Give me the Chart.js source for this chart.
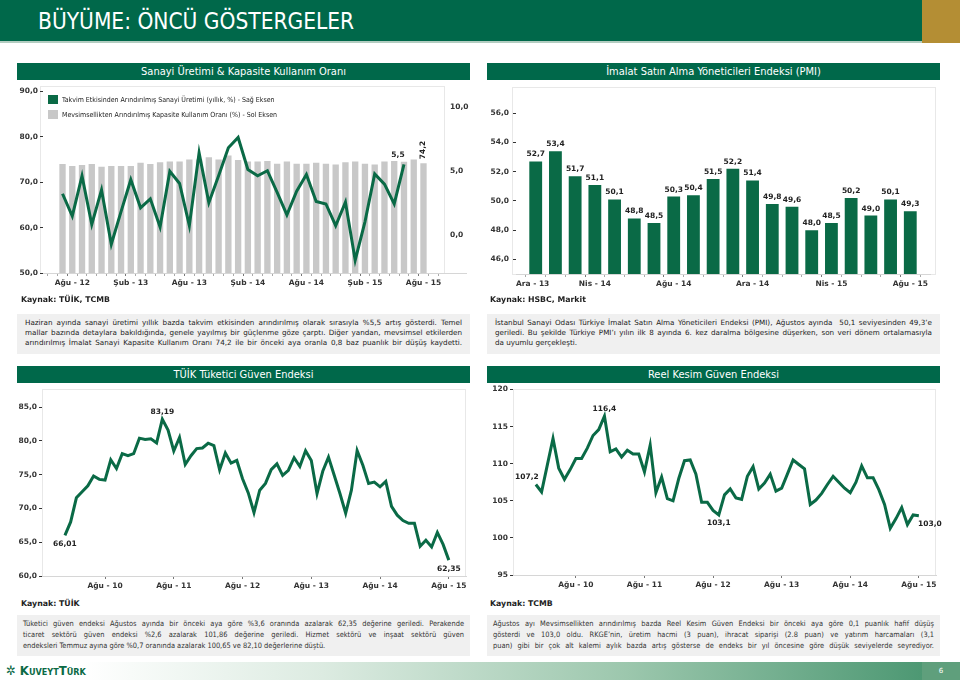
<!DOCTYPE html>
<html>
<head>
<meta charset="utf-8">
<script src="https://cdn.jsdelivr.net/npm/chart.js@4.4.0/dist/chart.umd.min.js"></script>
<style>
body{margin:0;width:960px;height:680px;position:relative;background:#fff;overflow:hidden;font-family:"DejaVu Sans",sans-serif;color:#222}
.abs{position:absolute}
#ust{left:0;top:0;width:922px;height:41px;background:#00684a}
#ustCizgi{left:0;top:41px;width:922px;height:2px;background:#b3cdc1}
#altin{left:922px;top:0;width:38px;height:43px;background:#b48e34}
#baslik{left:38px;top:6px;font:22.5px "DejaVu Sans Condensed","DejaVu Sans";color:#fff;line-height:30px}
.bant{height:17px;background:#00684a;color:#fff;font:11px "DejaVu Sans Condensed","DejaVu Sans";line-height:17px;text-align:center;width:453px}
.kutu{border:1px solid #e8e8e8;background:#fff;box-sizing:border-box}
.eksen{height:1px;background:#d6d6d6}
.kaynak{font:bold 7.8px "DejaVu Sans";color:#222}
.not{background:#f0f0f0;width:453px;box-sizing:border-box;padding:4px 8px 0 8px;font:7.2px "DejaVu Sans";color:#222}
.not div{line-height:10px;height:10px;text-align:justify;text-align-last:justify;white-space:nowrap;overflow:visible}
.not div.son{text-align-last:left}
.not2{background:#f0f0f0;width:453px;box-sizing:border-box;padding:3px 6px 0 6px;font:7.4px "DejaVu Sans Condensed","DejaVu Sans";color:#333}
.not2 div{line-height:11px;height:11px;text-align:justify;text-align-last:justify;white-space:nowrap}
.not2 div.son{text-align-last:left}
#lejant{left:48px;top:95px;font:7px "DejaVu Sans Condensed","DejaVu Sans";color:#222}
#lejant .s{height:15px;line-height:10px;white-space:nowrap}
#lejant i{display:inline-block;width:10px;height:9px;vertical-align:top;margin-right:4px}
#alt{left:0;top:662px;width:922px;height:18px;background:linear-gradient(to right,#fff 0%,#fff 9%,#dcebe1 35%,#9cc7ad 68%,#4d9873 100%)}
#altSag{left:922px;top:662px;width:38px;height:18px;background:#5f9f7c;color:#fff;font:7px "DejaVu Sans";line-height:18px;text-align:center}
#logo{left:6px;top:663px;font:bold 13px "DejaVu Sans Condensed","DejaVu Sans";font-variant:small-caps;color:#0b6a45;line-height:16px}
canvas{position:absolute}
</style>
</head>
<body>
<div class="abs" id="ust"></div>
<div class="abs" id="ustCizgi"></div>
<div class="abs" id="altin"></div>
<div class="abs" id="baslik">BÜYÜME: ÖNCÜ GÖSTERGELER</div>

<div class="abs bant" style="left:17px;top:63px">Sanayi Üretimi &amp; Kapasite Kullanım Oranı</div>
<div class="abs bant" style="left:487px;top:63px">İmalat Satın Alma Yöneticileri Endeksi (PMI)</div>
<div class="abs bant" style="left:17px;top:366px">TÜİK Tüketici Güven Endeksi</div>
<div class="abs bant" style="left:487px;top:366px">Reel Kesim Güven Endeksi</div>

<div class="abs kutu" style="left:40px;top:86px;width:405px;height:188px"></div>
<div class="abs eksen" style="left:43px;top:273px;width:424px"></div>
<div class="abs kutu" style="left:512px;top:87px;width:424px;height:188px"></div>
<div class="abs kutu" style="left:42px;top:389px;width:424px;height:188px"></div>
<div class="abs kutu" style="left:513px;top:389px;width:423px;height:187px"></div>

<canvas id="suKko" width="480" height="215" style="left:0;top:80px"></canvas>
<canvas id="pmi" width="480" height="215" style="left:480px;top:80px"></canvas>
<canvas id="tge" width="480" height="215" style="left:0;top:383px"></canvas>
<canvas id="rkge" width="480" height="215" style="left:480px;top:383px"></canvas>

<div class="abs" id="lejant"></div>

<div class="abs kaynak" style="left:21px;top:295px">Kaynak: TÜİK, TCMB</div>
<div class="abs kaynak" style="left:490px;top:295px">Kaynak: HSBC, Markit</div>
<div class="abs kaynak" style="left:21px;top:599px">Kaynak: TÜİK</div>
<div class="abs kaynak" style="left:490px;top:599px">Kaynak: TCMB</div>

<div class="abs not" style="left:17px;top:314px;height:40px">
<div>Haziran ayında sanayi üretimi yıllık bazda takvim etkisinden arındırılmış olarak sırasıyla %5,5 artış gösterdi. Temel</div>
<div>mallar bazında detaylara bakıldığında, genele yayılmış bir güçlenme göze çarptı. Diğer yandan, mevsimsel etkilerden</div>
<div>arındırılmış İmalat Sanayi Kapasite Kullanım Oranı 74,2 ile bir önceki aya oranla 0,8 baz puanlık bir düşüş kaydetti.</div>
</div>
<div class="abs not" style="left:487px;top:314px;height:40px">
<div>İstanbul Sanayi Odası Türkiye İmalat Satın Alma Yöneticileri Endeksi (PMI), Ağustos ayında&nbsp; 50,1 seviyesinden 49,3’e</div>
<div>geriledi. Bu şekilde Türkiye PMI’ı yılın ilk 8 ayında 6. kez daralma bölgesine düşerken, son veri dönem ortalamasıyla</div>
<div class="son">da uyumlu gerçekleşti.</div>
</div>
<div class="abs not2" style="left:17px;top:615px;height:41px">
<div>Tüketici güven endeksi Ağustos ayında bir önceki aya göre %3,6 oranında azalarak 62,35 değerine geriledi. Perakende</div>
<div>ticaret sektörü güven endeksi %2,6 azalarak 101,86 değerine geriledi. Hizmet sektörü ve inşaat sektörü güven</div>
<div class="son">endeksleri Temmuz ayına göre %0,7 oranında azalarak 100,65 ve 82,10 değerlerine düştü.</div>
</div>
<div class="abs not2" style="left:487px;top:615px;height:41px">
<div>Ağustos ayı Mevsimsellikten arındırılmış bazda Reel Kesim Güven Endeksi bir önceki aya göre 0,1 puanlık hafif düşüş</div>
<div>gösterdi ve 103,0 oldu. RKGE’nin, üretim hacmi (3 puan), ihracat siparişi (2.8 puan) ve yatırım harcamaları (3,1</div>
<div>puan) gibi bir çok alt kalemi aylık bazda artış gösterse de endeks bir yıl öncesine göre düşük seviyelerde seyrediyor.</div>
</div>

<div class="abs" id="alt"></div>
<div class="abs" id="altSag">6</div>
<div class="abs" id="logo">✲ KuveytTürk</div>

<script>
var AYLAR = ["Oca", "Şub", "Mar", "Nis", "May", "Haz", "Tem", "Ağu", "Eyl", "Eki", "Kas", "Ara"];

// eksen ayları (ay: 0 = Ocak)
function aylar(yil, ay, n) {
    var out = [];
    for (var i = 0; i < n; i++) {
        var k = ay + i;
        var y = (yil + Math.floor(k / 12)) % 100;
        out.push(AYLAR[k % 12] + " - " + (y < 10 ? "0" + y : y));
    }
    return out;
}

// Sanayi üretimi & KKO : eksen May 12 - Eki 15
var suAylar = aylar(2012, 4, 42);
// Tem 12 - Haz 15, yıllık %
var sanayiUretim = [3.2, 1.45, 4.6, 0.8, 3.5, -0.75, 1.8, 4.3, 2.1, 2.8, 0.6, 4.95, 4.0, 0.7, 6.4, 2.5, 4.6, 6.8,
    7.6, 5.1, 4.6, 5.0, 3.3, 1.55, 3.4, 4.7, 2.6, 2.4, 0.7, 2.55, -2.0, 1.0, 4.75, 3.95, 2.4, 5.5];
// Tem 12 - Ağu 15, %
var kapasite = [74.0, 73.6, 73.8, 74.0, 73.4, 73.6, 73.6, 73.6, 74.3, 74.0, 74.4, 74.6, 74.6, 75.0, 75.0, 75.5,
    75.0, 75.9, 74.9, 74.6, 74.6, 74.7, 74.1, 74.6, 74.1, 74.1, 74.3, 74.1, 73.9, 74.4, 74.6, 74.1, 73.9, 74.6,
    74.7, 74.5, 75.0, 74.2];

// PMI : eksen Ara 13 - Eyl 15, veri Oca 14 - Ağu 15
var pmiAylar = aylar(2013, 11, 22);
var pmi = [52.7, 53.4, 51.7, 51.1, 50.1, 48.8, 48.5, 50.3, 50.4, 51.5, 52.2, 51.4, 49.8, 49.6, 48.0, 48.5, 50.2,
    49.0, 50.1, 49.3];

// Güven endeksleri : eksen Eyl 09 - Kas 15, veri Oca 10 - Ağu 15
var guvenAylar = aylar(2009, 8, 75);
var tuketiciGuven = [66.01, 68.0, 71.57, 72.46, 73.34, 74.8, 74.3, 74.2, 77.2, 75.9,
    78.1, 77.8, 78.1, 80.4, 80.2, 80.3, 79.7, 83.19, 81.6, 78.5,
    80.5, 76.5, 77.8, 78.85, 78.95, 79.65, 79.3, 75.7, 78.2, 76.7,
    77.1, 74.4, 72.3, 69.4, 72.7, 73.7, 75.75, 76.6, 74.9, 75.65,
    77.5, 76.2, 78.55, 77.1, 72.2, 75.5, 77.6, 74.9, 72.2, 69.3,
    72.7, 78.55, 76.4, 73.7, 73.9, 73.2, 74.0, 70.3, 69.0, 68.2,
    67.8, 67.8, 64.4, 65.3, 64.3, 66.45, 64.68, 62.35];
var reelKesim = [107.2, 106.2, 109.8, 113.4, 109.4, 107.9, 109.2, 110.7, 110.7, 112.1,
    113.8, 114.6, 116.4, 111.6, 112.0, 110.9, 111.8, 111.3, 111.3, 108.9,
    112.5, 106.1, 108.2, 105.3, 105.0, 108.0, 110.4, 110.5, 108.6, 104.8,
    104.8, 103.7, 103.1, 105.8, 106.6, 105.4, 105.2, 108.3, 109.6, 106.6,
    107.4, 108.6, 106.3, 106.7, 108.6, 110.5, 109.9, 109.3, 104.5, 105.1,
    106.0, 107.2, 108.3, 107.5, 106.7, 106.1, 107.5, 109.7, 108.1, 108.1,
    106.5, 104.5, 101.3, 102.6, 104.1, 101.8, 103.1, 103.0];

var YESIL = "#0a6a46";
var GRI = "#c8c8c8";

function bosluk(n) {
    var a = [];
    for (var i = 0; i < n; i++) a.push(null);
    return a;
}
function doldur(veri, once, sonra) {
    return bosluk(once).concat(veri).concat(bosluk(sonra));
}
function virgul(v, d) {
    return v.toFixed(d).replace(".", ",");
}

Chart.defaults.font.family = "DejaVu Sans";
Chart.defaults.color = "#333";
Chart.defaults.animation = false;
Chart.defaults.plugins.legend.display = false;
Chart.defaults.plugins.tooltip.enabled = false;

// veri etiketleri
var etiketler = {
    id: "etiketler",
    afterDatasetsDraw: function (chart) {
        var ctx = chart.ctx;
        chart.data.datasets.forEach(function (ds, di) {
            (ds.etiket || []).forEach(function (t) {
                var el = chart.getDatasetMeta(di).data[t.i];
                var v = ds.data[t.i];
                if (!el || v == null) return;
                ctx.save();
                ctx.font = "bold 7.5px 'DejaVu Sans'";
                ctx.fillStyle = "#222";
                ctx.translate(el.x + (t.dx || 0), el.y + (t.dy || 0));
                if (t.rot) ctx.rotate(-Math.PI / 2);
                ctx.textAlign = t.align || "center";
                ctx.textBaseline = "middle";
                ctx.fillText(virgul(v, t.dec), 0, 0);
                ctx.restore();
            });
        });
    }
};

function xEksen(desen, yukseklik, kucukTik, hiza) {
    return {
        type: "category",
        offset: false,
        border: {display: true, color: "#d6d6d6"},
        grid: {
            drawOnChartArea: false,
            drawTicks: true,
            tickLength: 3,
            color: function (c) {
                if (c.tick && c.tick.label) return "#777";
                return kucukTik ? "#aaa" : "rgba(0,0,0,0)";
            }
        },
        ticks: {
            autoSkip: false,
            maxRotation: 0,
            padding: 3,
            align: hiza || "center",
            font: {size: 7.5, weight: "bold"},
            callback: function (v) {
                var l = this.getLabelForValue(v);
                return desen.test(l) ? l : "";
            }
        },
        afterFit: function (s) { s.height = yukseklik; }
    };
}

function yEksen(min, max, adim, ondalik, genislik, bosl) {
    return {
        type: "linear",
        min: min,
        max: max,
        border: {display: false},
        grid: {drawOnChartArea: false, drawTicks: true, tickLength: 3, color: "#333"},
        ticks: {
            stepSize: adim,
            includeBounds: false,
            padding: bosl || 2,
            font: {size: 7.5, weight: "bold"},
            callback: function (v) { return virgul(v, ondalik); }
        },
        afterFit: function (s) { s.width = genislik; }
    };
}

// 1) Sanayi üretimi & KKO
var suChart = new Chart("suKko", {
    data: {
        labels: suAylar,
        datasets: [{
            type: "line",
            label: "Takvim Etkisinden Arındırılmış Sanayi Üretimi (yıllık, %) - Sağ Eksen",
            data: doldur(sanayiUretim, 2, 4),
            yAxisID: "y2",
            borderColor: YESIL,
            backgroundColor: YESIL,
            borderWidth: 3,
            pointRadius: 0,
            order: 0,
            etiket: [{i: 2 + sanayiUretim.length - 1, dx: -6, dy: -9, dec: 1}]
        }, {
            type: "bar",
            label: "Mevsimsellikten Arındırılmış Kapasite Kullanım Oranı (%) - Sol Eksen",
            data: doldur(kapasite, 2, 2),
            yAxisID: "y",
            backgroundColor: GRI,
            categoryPercentage: 1,
            barPercentage: 0.65,
            order: 1,
            etiket: [{i: 2 + kapasite.length - 1, dy: -4, rot: true, align: "left", dec: 1}]
        }]
    },
    options: {
        responsive: false,
        layout: {padding: {top: 6, right: 0, bottom: 0, left: 0}},
        scales: {
            x: xEksen(/^(Ağu|Şub)/, 22, true),
            y: yEksen(50, 90, 10, 1, 43),
            y2: (function () {
                var e = yEksen(-3, 11.2, 5, 1, 37, 7);
                e.position = "right";
                e.grid.drawTicks = false;
                return e;
            })()
        }
    },
    plugins: [etiketler]
});

document.getElementById("lejant").innerHTML = suChart.data.datasets.map(function (ds) {
    return "<div class='s'><i style='background:" + ds.backgroundColor + "'></i>" + ds.label + "</div>";
}).join("");

// 2) PMI
new Chart("pmi", {
    type: "bar",
    data: {
        labels: pmiAylar,
        datasets: [{
            data: doldur(pmi, 1, 1),
            backgroundColor: YESIL,
            categoryPercentage: 1,
            barPercentage: 0.65,
            etiket: pmi.map(function (v, i) { return {i: i + 1, dy: -7, dec: 1}; })
        }]
    },
    options: {
        responsive: false,
        layout: {padding: {top: 8, right: 30, bottom: 0, left: 0}},
        scales: {
            x: xEksen(/^(Ara|Nis|Ağu)/, 21, true, "inner"),
            y: yEksen(45, 57.7, 2, 1, 36, 4)
        }
    },
    plugins: [etiketler]
});

// 3) TÜİK Tüketici Güven Endeksi
new Chart("tge", {
    type: "line",
    data: {
        labels: guvenAylar,
        datasets: [{
            data: doldur(tuketiciGuven, 4, 3),
            borderColor: YESIL,
            borderWidth: 3,
            pointRadius: 0,
            etiket: [
                {i: 4, dy: 9, dec: 2},
                {i: 4 + 17, dy: -7, dec: 2},
                {i: 4 + 67, dy: 9, dec: 2}
            ]
        }]
    },
    options: {
        responsive: false,
        layout: {padding: {top: 6, right: 14, bottom: 0, left: 0}},
        scales: {
            x: xEksen(/^Ağu/, 22, false),
            y: yEksen(60, 87.6, 5, 1, 42)
        }
    },
    plugins: [etiketler]
});

// 4) Reel Kesim Güven Endeksi
new Chart("rkge", {
    type: "line",
    data: {
        labels: guvenAylar,
        datasets: [{
            data: doldur(reelKesim, 4, 3),
            borderColor: YESIL,
            borderWidth: 3,
            pointRadius: 0,
            etiket: [
                {i: 4, dx: -9, dy: -7, dec: 1},
                {i: 4 + 12, dy: -7, dec: 1},
                {i: 4 + 32, dy: 8, dec: 1},
                {i: 4 + 67, dx: 11, dy: 8, dec: 1}
            ]
        }]
    },
    options: {
        responsive: false,
        layout: {padding: {top: 6, right: 24, bottom: 0, left: 0}},
        scales: {
            x: xEksen(/^Ağu/, 23, false),
            y: yEksen(95, 120, 5, 0, 33)
        }
    },
    plugins: [etiketler]
});
</script>
</body>
</html>
